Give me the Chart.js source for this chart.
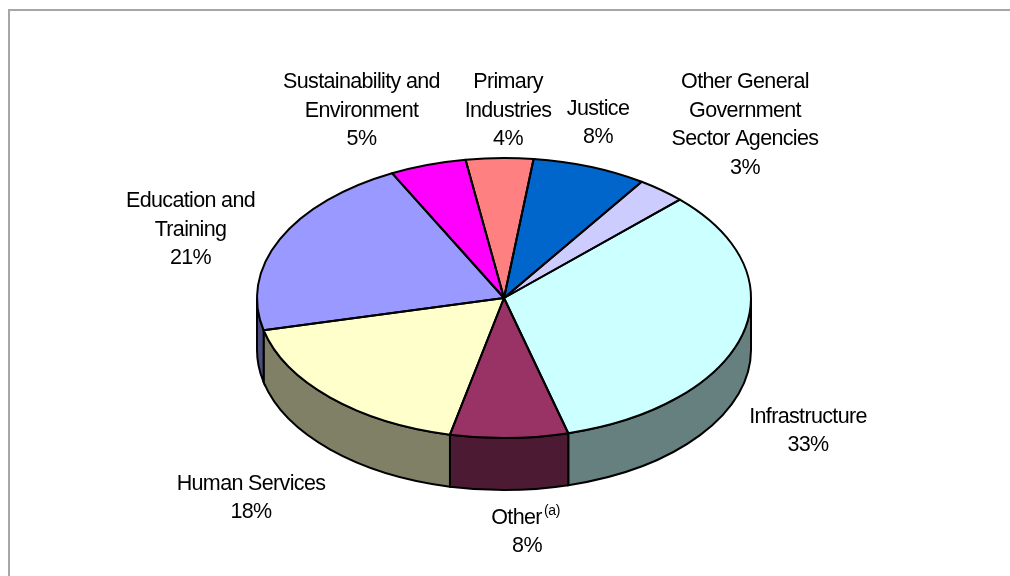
<!DOCTYPE html>
<html>
<head>
<meta charset="utf-8">
<style>
  html, body { margin: 0; padding: 0; background: #fff; }
  #wrap { position: relative; width: 1010px; height: 576px; overflow: hidden; }
  canvas { display: block; }
</style>
<script src="https://cdn.jsdelivr.net/npm/chart.js@4"></script>
</head>
<body>
<div id="wrap"><canvas id="chart-agency" width="1010" height="576"></canvas></div>
<script>
var categories = ["Infrastructure", "Other", "Human Services", "Education and Training",
    "Sustainability and Environment", "Primary Industries", "Justice", "Other General Government Sector Agencies"];
var shares = [33.2, 7.7, 17.8, 21.2, 5.0, 4.4, 7.5, 3.2];
var topColours = ["#CCFFFF", "#993366", "#FFFFCC", "#9999FF", "#FF00FF", "#FF8080", "#0066CC", "#CCCCFF"];
var wallColours = ["#668080", "#4D1A33", "#808066", "#4D4D80", "#800080", "#804040", "#003366", "#666680"];

// text lines and anchor of each label (x centre, first baseline)
var labelLines = [
    ["Infrastructure"],
    ["Other"],
    ["Human Services"],
    ["Education and", "Training"],
    ["Sustainability and", "Environment"],
    ["Primary", "Industries"],
    ["Justice"],
    ["Other General", "Government", "Sector Agencies"]
];
var labelAnchors = [[808, 422.5], [516.5, 523.5], [251, 489.5], [190.5, 207], [361.5, 88], [508, 88], [598, 114.5], [745, 88]];

var squash = 0.567;
var depth = 52;
var pieRadius = 247;
var lineStep = 28.7;
var labelFont = "21.5px 'Liberation Sans'";
var labelTracking = "-0.65px";

function ellipsePath(ctx, arc, from, to, dy, ccw) {
    ctx.ellipse(arc.x, arc.y + dy, pieRadius, pieRadius * squash, 0, from, to, ccw);
}

// side wall of the tilted pie, under the top face
var pieWalls = {
    id: 'pieWalls',
    beforeDatasetsDraw: function(chart) {
        var ctx = chart.ctx;
        var arcs = chart.getDatasetMeta(0).data;
        ctx.save();
        ctx.lineWidth = 2;
        ctx.strokeStyle = "#000";
        arcs.forEach(function(arc, i) {
            var cycle = Math.PI * 2;
            var a = arc.startAngle, b = arc.endAngle;
            // look at both turns so a slice running past the top is still caught
            [0, -cycle, cycle].forEach(function(turn) {
                var from = Math.max(a + turn, 0);
                var to = Math.min(b + turn, Math.PI);
                if (to <= from) return;
                ctx.beginPath();
                ellipsePath(ctx, arc, from, to, 0, false);
                ellipsePath(ctx, arc, to, from, depth, true);
                ctx.closePath();
                ctx.fillStyle = wallColours[i];
                ctx.fill();
                ctx.stroke();
            });
        });
        ctx.restore();

        // squash the top face
        var first = arcs[0];
        ctx.save();
        ctx.translate(first.x, first.y);
        ctx.scale(1, squash);
        ctx.translate(-first.x, -first.y);
    },
    afterDatasetsDraw: function(chart) {
        var ctx = chart.ctx;
        ctx.restore();
        ctx.save();
        ctx.lineWidth = 2;
        ctx.lineJoin = "round";
        ctx.strokeStyle = "#000";
        chart.getDatasetMeta(0).data.forEach(function(arc) {
            ctx.beginPath();
            ctx.moveTo(arc.x, arc.y);
            ellipsePath(ctx, arc, arc.startAngle, arc.endAngle, 0, false);
            ctx.closePath();
            ctx.stroke();
        });
        ctx.restore();
    }
};

// labels with share, plus the page frame
var pieLabels = {
    id: 'pieLabels',
    afterDraw: function(chart) {
        var ctx = chart.ctx;
        ctx.save();
        ctx.fillStyle = "#A6A6A6";
        ctx.fillRect(8, 9, 1002, 2);
        ctx.fillRect(8, 9, 2, 567);
        ctx.fillStyle = "#000";
        ctx.font = labelFont;
        ctx.letterSpacing = labelTracking;
        ctx.textAlign = "center";
        ctx.textBaseline = "alphabetic";
        labelLines.forEach(function(lines, i) {
            var x = labelAnchors[i][0], y = labelAnchors[i][1];
            lines.forEach(function(line, n) {
                ctx.fillText(line, x, y + n * lineStep);
            });
            ctx.fillText(Math.round(shares[i]) + "%", x + (i === 1 ? 10.5 : 0), y + lines.length * lineStep);
            if (categories[i] === "Other") {
                ctx.font = "14px 'Liberation Sans'";
                ctx.letterSpacing = "-0.3px";
                ctx.textAlign = "left";
                ctx.fillText("(a)", x + 27.5, y - 9);
                ctx.font = labelFont;
                ctx.letterSpacing = labelTracking;
                ctx.textAlign = "center";
            }
        });
        ctx.restore();
    }
};

var agencyChart = new Chart(document.getElementById("chart-agency"), {
    type: 'pie',
    plugins: [pieWalls, pieLabels],
    data: {
        labels: categories,
        datasets: [{
            data: shares,
            backgroundColor: topColours,
            borderWidth: 0,
            radius: pieRadius
        }]
    },
    options: {
        responsive: false,
        animation: false,
        devicePixelRatio: 1,
        rotation: 45.4,
        layout: { padding: { top: 20, right: 2 } },
        plugins: { legend: { display: false }, tooltip: { enabled: false } }
    }
});
</script>
</body>
</html>
